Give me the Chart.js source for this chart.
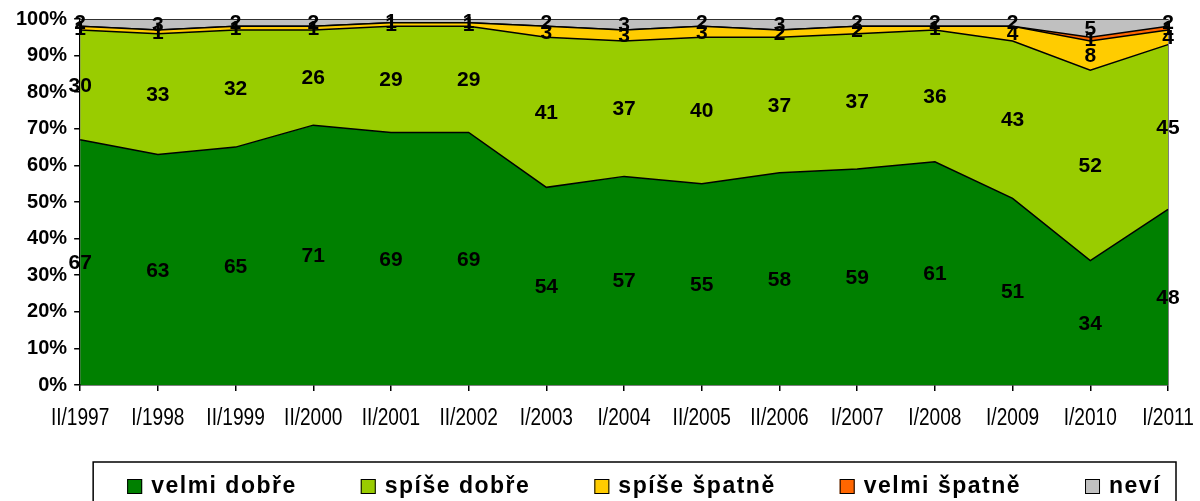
<!DOCTYPE html>
<html>
<head>
<meta charset="utf-8">
<script src="https://cdn.jsdelivr.net/npm/chart.js@4"></script>
<style>
  html, body { margin: 0; padding: 0; background: #fff; }
  #wrap { width: 1200px; height: 501px; }
</style>
</head>
<body>
<div id="wrap"><canvas id="chart"></canvas></div>
<script>
// survey periods
const periods = ['II/1997', 'I/1998', 'II/1999', 'II/2000', 'II/2001', 'II/2002', 'I/2003', 'I/2004',
                 'II/2005', 'II/2006', 'I/2007', 'I/2008', 'I/2009', 'I/2010', 'I/2011'];

// answers in percent
const velmiDobre  = [67, 63, 65, 71, 69, 69, 54, 57, 55, 58, 59, 61, 51, 34, 48];
const spiseDobre  = [30, 33, 32, 26, 29, 29, 41, 37, 40, 37, 37, 36, 43, 52, 45];
const spiseSpatne = [1, 1, 1, 1, 1, 1, 3, 3, 3, 2, 2, 1, 4, 8, 4];
const velmiSpatne = [0, 0, 0, 0, 0, 0, 0, 0, 0, 0, 0, 0, 0, 1, 1];
const nevi        = [2, 3, 2, 2, 1, 1, 2, 3, 2, 3, 2, 2, 2, 5, 2];

const seriesNames  = ['velmi dobře', 'spíše dobře', 'spíše špatně', 'velmi špatně', 'neví'];
const seriesColors = ['#008000', '#99cc00', '#ffcc00', '#ff6600', '#c0c0c0'];
const seriesData   = [velmiDobre, spiseDobre, spiseSpatne, velmiSpatne, nevi];

const yTicks = [0, 10, 20, 30, 40, 50, 60, 70, 80, 90, 100];

// value labels in the middle of every band
const bandLabels = {
    id: 'bandLabels',
    afterDatasetsDraw(chart) {
        const ctx = chart.ctx;
        const y0 = chart.scales.y.getPixelForValue(0);
        ctx.save();
        ctx.font = 'bold 21px "Liberation Sans", Arial, sans-serif';
        ctx.fillStyle = '#000';
        ctx.textAlign = 'center';
        ctx.textBaseline = 'middle';
        chart.data.datasets.forEach((ds, i) => {
            const meta = chart.getDatasetMeta(i);
            meta.data.forEach((pt, j) => {
                const v = ds.data[j];
                if (!v) return;
                const below = i === 0 ? y0 : chart.getDatasetMeta(i - 1).data[j].y;
                ctx.fillText(String(v), pt.x, (pt.y + below) / 2 + 1);
            });
        });
        ctx.restore();
    }
};

// category labels in a condensed face (no narrow font installed, so squeeze it)
const narrowTicks = {
    id: 'narrowTicks',
    afterDraw(chart) {
        const ctx = chart.ctx;
        const xs = chart.scales.x;
        ctx.save();
        ctx.font = '23px "Liberation Sans", Arial, sans-serif';
        ctx.fillStyle = '#000';
        ctx.textAlign = 'center';
        ctx.textBaseline = 'alphabetic';
        periods.forEach((p, i) => {
            const x = xs.getPixelForTick(i);
            ctx.save();
            ctx.translate(x, xs.bottom + 34);
            ctx.scale(0.83, 1);
            ctx.fillText(p, 0, 0);
            ctx.restore();
        });
        ctx.restore();
    }
};

// excel style legend in a framed box
const boxLegend = {
    id: 'boxLegend',
    afterDraw(chart) {
        const ctx = chart.ctx;
        const area = chart.chartArea;
        const left = area.left + 13, right = chart.width - 24, top = 462;
        ctx.save();
        ctx.strokeStyle = '#000';
        ctx.lineWidth = 1.5;
        ctx.strokeRect(left, top, right - left, 60);
        ctx.font = 'bold 23px "Liberation Sans", Arial, sans-serif';
        ctx.letterSpacing = '1.5px';
        ctx.textBaseline = 'middle';
        ctx.textAlign = 'left';
        let x = left + 34;
        const cy = 486;
        chart.data.datasets.forEach(ds => {
            ctx.fillStyle = ds.backgroundColor;
            ctx.fillRect(x, cy - 7, 15, 15);
            ctx.lineWidth = 1;
            ctx.strokeRect(x + 0.5, cy - 6.5, 14, 14);
            ctx.fillStyle = '#000';
            ctx.fillText(ds.label, x + 24, cy + 1);
            x += 24 + ctx.measureText(ds.label).width + 64;
        });
        ctx.restore();
    }
};

new Chart(document.getElementById('chart'), {
    type: 'line',
    data: {
        labels: periods,
        datasets: seriesData.map((d, i) => ({
            label: seriesNames[i],
            data: d,
            backgroundColor: seriesColors[i],
            borderColor: '#000',
            borderWidth: 1.5,
            pointRadius: 0,
            tension: 0,
            fill: i === 0 ? 'origin' : '-1'
        }))
    },
    options: {
        responsive: true,
        maintainAspectRatio: false,
        animation: false,
        layout: { padding: { top: 15, right: 32, bottom: 110, left: 9 } },
        plugins: {
            legend: { display: false },
            tooltip: { enabled: false }
        },
        scales: {
            x: {
                offset: false,
                border: { color: '#000', width: 1.5 },
                grid: {
                    drawOnChartArea: true,
                    color: c => c.index === periods.length - 1 ? '#000' : 'rgba(0,0,0,0)',
                    tickColor: '#000',
                    tickLength: 6,
                    lineWidth: 1.5
                },
                ticks: { display: false, autoSkip: false, maxRotation: 0 }
            },
            y: {
                stacked: true,
                min: 0,
                max: 100,
                afterBuildTicks: axis => { axis.ticks = yTicks.map(v => ({ value: v })); },
                border: { color: '#000', width: 1.5 },
                grid: { drawOnChartArea: false, tickColor: '#000', tickLength: 6, lineWidth: 1.5 },
                ticks: {
                    color: '#000',
                    padding: 7,
                    font: { family: '"Liberation Sans", Arial, sans-serif', size: 20, weight: 'bold' },
                    callback: v => v + '%'
                }
            }
        }
    },
    plugins: [bandLabels, narrowTicks, boxLegend]
});
</script>
</body>
</html>
